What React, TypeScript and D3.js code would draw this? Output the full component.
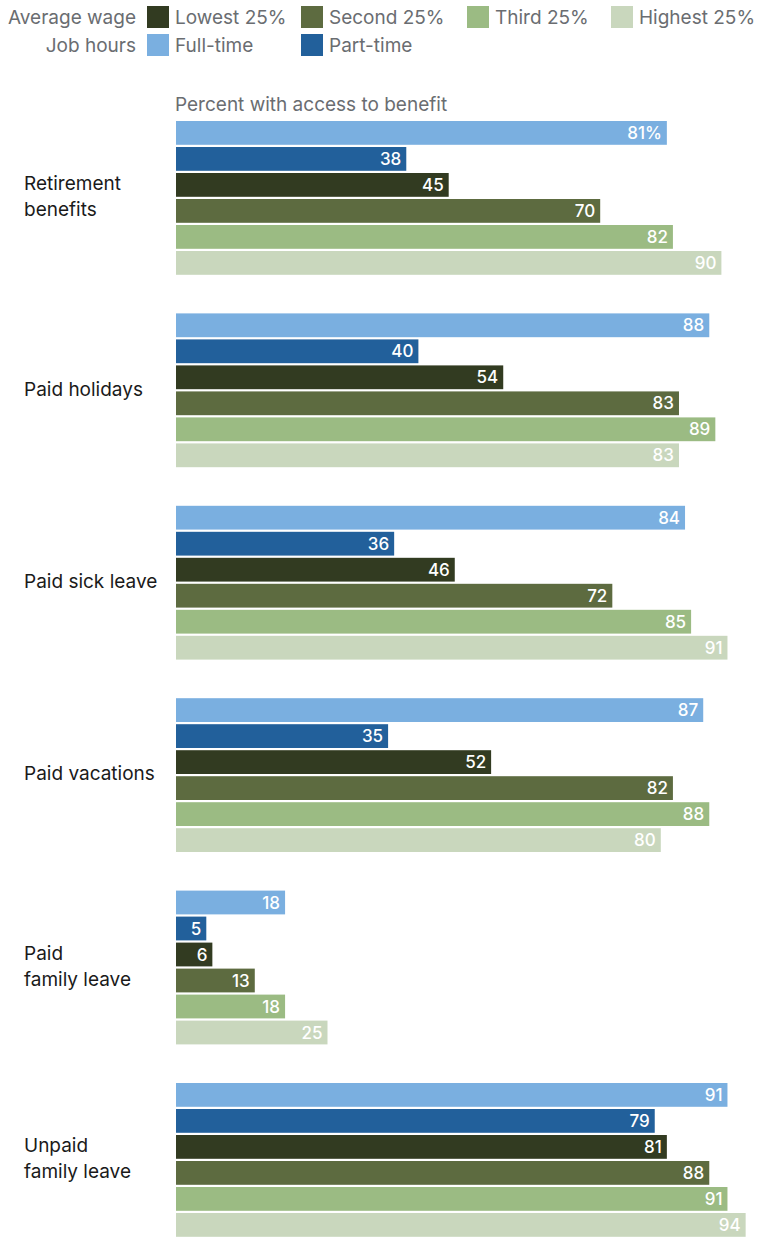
import React from "react";
import * as d3 from "d3";

const categories = [
  ["Retirement", "benefits"],
  ["Paid holidays"],
  ["Paid sick leave"],
  ["Paid vacations"],
  ["Paid", "family leave"],
  ["Unpaid", "family leave"],
];
const seriesNames = ["Full-time", "Part-time", "Lowest 25%", "Second 25%", "Third 25%", "Highest 25%"];
const seriesColors = ["#7aafe0", "#22609b", "#323b21", "#5d6b40", "#9bbb83", "#c9d7bd"];
const fullTime = [81, 88, 84, 87, 18, 91];
const partTime = [38, 40, 36, 35, 5, 79];
const lowest = [45, 54, 46, 52, 6, 81];
const second = [70, 83, 72, 82, 13, 88];
const third = [82, 89, 85, 88, 18, 91];
const highest = [90, 83, 91, 80, 25, 94];
const seriesValues = [fullTime, partTime, lowest, second, third, highest];

const W = 758;
const H = 1238;
const FONT = "Inter, 'Noto Sans', sans-serif";
const GRAY = "#6a6d71";

export default function App() {
  const x = d3.scaleLinear().domain([0, 100]).range([176, 782]);
  const groupKeys = categories.map((_, i) => String(i));
  const gy = d3.scaleBand().domain(groupKeys).range([121, 121 + 192.4 * 6]).paddingInner(0);
  const by = d3.scaleBand().domain(seriesNames).range([0, 153.8]).paddingInner(0.085).paddingOuter(0);

  const legendRows = [
    { title: "Average wage", y: 17, items: [[2, 147], [3, 301], [4, 467], [5, 611]] },
    { title: "Job hours", y: 45, items: [[0, 147], [1, 301]] },
  ];

  return (
    <svg width={W} height={H} style={{ position: "absolute", left: 0, top: 0 }} fontFamily={FONT}>
      {legendRows.map((row) => (
        <g key={row.title}>
          <text x={136} y={row.y} dy="0.35em" textAnchor="end" fontSize={19} fill={GRAY}>
            {row.title}
          </text>
          {row.items.map(([si, lx]) => (
            <g key={si}>
              <rect x={lx} y={row.y - 11} width={22} height={22} fill={seriesColors[si]} />
              <text x={lx + 28} y={row.y} dy="0.35em" fontSize={19} fill={GRAY}>
                {seriesNames[si]}
              </text>
            </g>
          ))}
        </g>
      ))}
      <text x={175} y={104} dy="0.35em" fontSize={19} fill={GRAY}>
        Percent with access to benefit
      </text>
      {categories.map((lines, ci) => {
        const g0 = gy(String(ci))!;
        const center = g0 + 75.5;
        return (
          <g key={ci}>
            {lines.map((ln, li) => (
              <text
                key={li}
                x={24}
                y={center + (li - (lines.length - 1) / 2) * 26}
                dy="0.35em"
                fontSize={19}
                fill="#1a1a1a"
              >
                {ln}
              </text>
            ))}
            {seriesNames.map((s, si) => {
              const v = seriesValues[si][ci];
              const y0 = g0 + by(s)!;
              const bw = by.bandwidth();
              return (
                <g key={s}>
                  <rect x={x(0)} y={y0} width={x(v) - x(0)} height={bw} fill={seriesColors[si]} />
                  <text
                    x={x(v) - 5}
                    y={y0 + bw / 2}
                    dy="0.36em"
                    textAnchor="end"
                    fontSize={17}
                    fontWeight={500}
                    fill="#ffffff"
                  >
                    {ci === 0 && si === 0 ? `${v}%` : v}
                  </text>
                </g>
              );
            })}
          </g>
        );
      })}
    </svg>
  );
}
